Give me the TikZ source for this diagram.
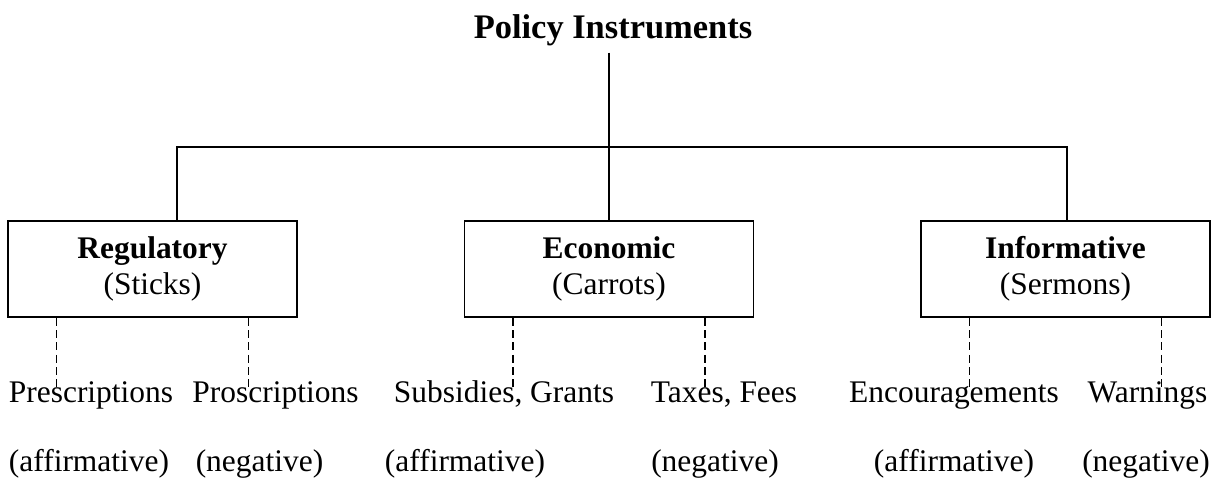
\documentclass[tikz,border=0pt]{standalone}
\usepackage{fontspec}
\setmainfont{Liberation Serif}
\usetikzlibrary{positioning}

\begin{document}
\begin{tikzpicture}[
    block/.style={rectangle, draw, line width=1pt, minimum width=5.78cm, minimum height=1.92cm, align=center, inner sep=0pt},
    item/.style={anchor=base, inner sep=0pt, text height=0.3cm},
    link/.style={line width=0.9pt},
    dashlink/.style={line width=1pt, dash pattern=on 4.5pt off 2.5pt},
    every node/.style={font=\fontsize{17.9pt}{20.4pt}\selectfont}
]
    \useasboundingbox (0,0) rectangle (24.42,9.68);

    % Title
    \node[font=\fontsize{19.6pt}{22pt}\selectfont\bfseries, anchor=base] (top) at (12.26, 8.90) {Policy Instruments};

    % Instrument types
    \node[block] (reg) at (3.05, 4.30) {\textbf{Regulatory}\\(Sticks)};
    \node[block] (eco) at (12.18, 4.30) {\textbf{Economic}\\(Carrots)};
    \node[block] (inf) at (21.31, 4.30) {\textbf{Informative}\\(Sermons)};

    % Sub-types
    \node[item] (pre) at (1.82, 1.62) {Prescriptions};
    \node[item] (pro) at (5.51, 1.62) {Proscriptions};
    \node[item] (sub) at (10.08, 1.62) {Subsidies, Grants};
    \node[item] (tax) at (14.48, 1.62) {Taxes, Fees};
    \node[item] (enc) at (19.08, 1.62) {Encouragements};
    \node[item] (warn) at (22.95, 1.62) {Warnings};

    % Affirmative / negative
    \node[item] (preaff) at (1.78, 0.24) {(affirmative)};
    \node[item] (proneg) at (5.19, 0.24) {(negative)};
    \node[item] (subaff) at (9.30, 0.24) {(affirmative)};
    \node[item] (taxneg) at (14.30, 0.24) {(negative)};
    \node[item] (encaff) at (19.08, 0.24) {(affirmative)};
    \node[item] (warnneg) at (22.92, 0.24) {(negative)};

    % Tree
    \draw[line width=0.6pt] (eco.north |- top.south) -- (eco.north);
    \draw[link] ([xshift=0.49cm]reg.north) -- ++(0,1.46) -| ([xshift=0.03cm]inf.north);

    % Dashed links
    \draw[dashlink] ([xshift=-1.92cm]reg.south) -- ([xshift=-1.92cm]reg.south |- pre.north);
    \draw[dashlink] ([xshift=1.92cm]reg.south) -- ([xshift=1.92cm]reg.south |- pro.north);
    \draw[dashlink] ([xshift=-1.92cm]eco.south) -- ([xshift=-1.92cm]eco.south |- sub.north);
    \draw[dashlink] ([xshift=1.92cm]eco.south) -- ([xshift=1.92cm]eco.south |- tax.north);
    \draw[dashlink] ([xshift=-1.92cm]inf.south) -- ([xshift=-1.92cm]inf.south |- enc.north);
    \draw[dashlink] ([xshift=1.92cm]inf.south) -- ([xshift=1.92cm]inf.south |- warn.north);
\end{tikzpicture}
\end{document}
